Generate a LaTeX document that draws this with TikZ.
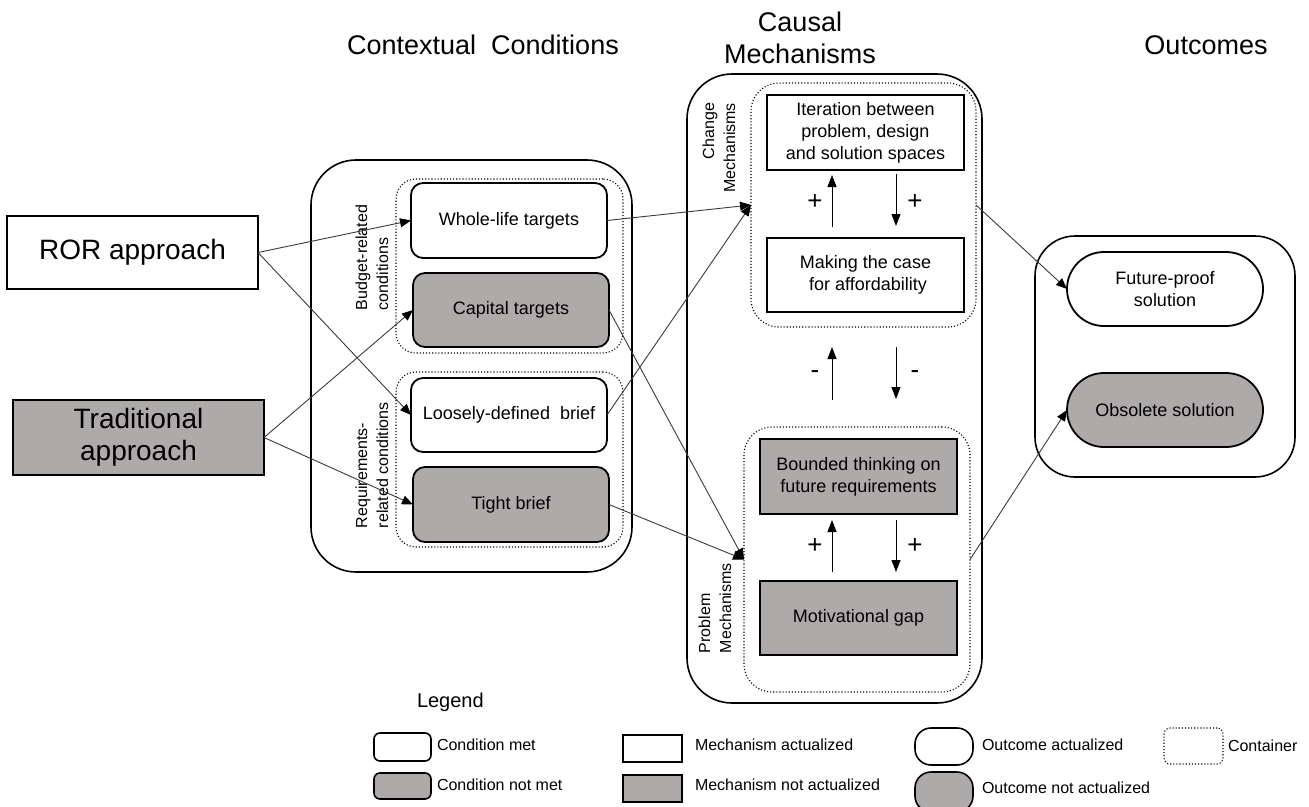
\documentclass[tikz,border=0pt]{standalone}
\usepackage{fontspec}
\setmainfont{Liberation Sans}
\usetikzlibrary{arrows.meta,calc}
\definecolor{gfill}{HTML}{AEAAAA}
\definecolor{lgray}{HTML}{3A3A3A}
\begin{document}
\begin{tikzpicture}[x=1pt,y=-1pt,
  every node/.style={inner sep=0pt,outer sep=0pt},
  txt/.style={font=\fontsize{18}{22}\selectfont,align=center},
  cond/.style={txt,draw=black,line width=1.8pt,rounded corners=12pt,minimum width=196pt,minimum height=75pt,fill=white},
  condn/.style={cond,fill=gfill},
  mech/.style={txt,draw=black,line width=1.8pt,minimum width=197pt,minimum height=75pt,fill=white},
  mechn/.style={mech,fill=gfill},
  outc/.style={txt,draw=black,line width=1.8pt,rounded corners=37pt,minimum width=196pt,minimum height=74pt,fill=white},
  outcn/.style={outc,fill=gfill},
  outer/.style={draw=black,line width=1.6pt,rounded corners=45pt},
  cont/.style={draw=black,line width=1.1pt,dotted,rounded corners=20pt},
  side/.style={font=\fontsize{16}{21}\selectfont,rotate=90},
  title/.style={font=\fontsize{27}{32}\selectfont,align=center},
  arr/.style={draw=lgray,line width=0.9pt,-{Triangle[length=11pt,width=9pt,color=black]}},
  fb/.style={draw=black,line width=1pt,-{Triangle[length=12pt,width=9pt,color=black]}},
  sign/.style={font=\fontsize{26}{26}\selectfont},
  leg/.style={font=\fontsize{16}{19}\selectfont,anchor=west}
]
\useasboundingbox (0,0) rectangle (1309,806);

% titles
\node[title] (t1) at (483,45) {Contextual\ \ Conditions};
\node[title] (t2) at (800,38) {Causal\\Mechanisms};
\node[title] (t3) at (1206,45) {Outcomes};

% approaches
\node[draw=black,line width=1.6pt,minimum width=251pt,minimum height=73pt,font=\fontsize{28}{32}\selectfont,fill=white] (ror) at (132.5,252.5) {ROR approach};
\node[draw=black,line width=1.6pt,minimum width=251pt,minimum height=75pt,font=\fontsize{28}{32}\selectfont,align=center,fill=gfill] (trad) at (138.5,437.5) {Traditional\\approach};

% contextual conditions
\node[outer,minimum width=321pt,minimum height=412pt] (ctx) at (471.5,366) {};
\node[cont,minimum width=227pt,minimum height=174pt] (budget) at (509.5,266) {};
\node[cont,minimum width=227pt,minimum height=175pt] (req) at (509.5,459.5) {};
\node[cond] (wl) at (509,220.5) {Whole-life targets};
\node[condn,minimum height=74pt] (cap) at (511,310) {Capital targets};
\node[cond,minimum height=74pt] (loose) at (509,415) {Loosely-defined\ \ brief};
\node[condn] (tight) at (511,504.5) {Tight brief};
\node[side,align=left,anchor=west] (bl) at (372,310) {Budget-related\\conditions};
\node[side,align=left,anchor=west] (rl) at (372,528) {Requirements-\\related conditions};

% causal mechanisms
\node[outer,minimum width=295pt,minimum height=629pt] (causal) at (834.5,388.5) {};
\node[cont,rounded corners=28pt,minimum width=225pt,minimum height=244pt] (changeC) at (863.5,205) {};
\node[cont,rounded corners=28pt,minimum width=226pt,minimum height=265pt] (probC) at (857,559.5) {};
\node[mech] (iter) at (865.5,132.5) {Iteration between\\problem, design\\and solution spaces};
\node[mech,minimum height=74pt] (case) at (865.5,275) {Making the case\\\ for affordability};
\node[mechn] (bounded) at (858.5,476.5) {Bounded thinking on\\future requirements};
\node[mechn,minimum height=74pt] (motiv) at (858.5,618) {Motivational gap};
\node[side,align=right,anchor=east] (cl) at (719,103) {Change\\Mechanisms};
\node[side,align=left,anchor=west] (pl) at (715,653) {Problem\\Mechanisms};

\coordinate (ux) at (832,0);
\coordinate (dx) at (896,0);
\draw[fb,shorten <=11pt,shorten >=5pt] (case.north -| ux) -- (iter.south -| ux);
\draw[fb,shorten <=4pt,shorten >=12pt] (iter.south -| dx) -- (case.north -| dx);
\draw[fb,shorten <=27pt,shorten >=20pt] (probC.north -| ux) -- (changeC.south -| ux);
\draw[fb,shorten <=20pt,shorten >=28pt] (changeC.south -| dx) -- (probC.north -| dx);
\draw[fb,shorten <=9pt,shorten >=6pt] (motiv.north -| ux) -- (bounded.south -| ux);
\draw[fb,shorten <=6pt,shorten >=9pt] (bounded.south -| dx) -- (motiv.north -| dx);
\node[sign] (p1) at (815,202) {+};
\node[sign] (p2) at (915,202) {+};
\node[sign] (m1) at (815,375) {-};
\node[sign] (m2) at (915,375) {-};
\node[sign] (p3) at (815,546) {+};
\node[sign] (p4) at (915,546) {+};

% outcomes
\node[outer,rounded corners=40pt,minimum width=260pt,minimum height=241pt] (outs) at (1165,356.5) {};
\node[outc] (future) at (1165,289) {Future-proof\\solution};
\node[outcn] (obs) at (1165,410) {Obsolete solution};

% connectors
\draw[arr] (ror.east) -- (wl.west);
\draw[arr] (ror.east) -- (loose.west);
\draw[arr] (trad.east) -- (cap.west);
\draw[arr] (trad.east) -- (tight.west);
\draw[arr] (wl.east) -- (changeC.west);
\draw[arr] (loose.east) -- (changeC.west);
\draw[arr] (cap.east) -- (probC.west);
\draw[arr] (tight.east) -- (probC.west);
\draw[arr] (changeC.east) -- (future.west);
\draw[arr] (probC.east) -- (obs.west);

% legend
\node[font=\fontsize{20}{24}\selectfont,anchor=west] (lg) at (417,702) {Legend};
\node[draw=black,line width=1.6pt,rounded corners=6pt,minimum width=57pt,minimum height=28pt] (lcm) at (402.5,747) {};
\node[leg] (lcmt) at (437,745) {Condition met};
\node[draw=black,line width=1.6pt,rounded corners=6pt,minimum width=57pt,minimum height=26pt,fill=gfill] (lcn) at (402.5,786) {};
\node[leg] (lcnt) at (437,785) {Condition not met};
\node[draw=black,line width=1.6pt,minimum width=59pt,minimum height=27pt] (lma) at (652.5,748.5) {};
\node[leg] (lmat) at (695,745) {Mechanism actualized};
\node[draw=black,line width=1.6pt,minimum width=59pt,minimum height=27pt,fill=gfill] (lmn) at (652.5,788.5) {};
\node[leg] (lmnt) at (695,785) {Mechanism not actualized};
\node[draw=black,line width=1.6pt,rounded corners=16pt,minimum width=58pt,minimum height=37pt] (loa) at (944,746.5) {};
\node[leg] (loat) at (982,745) {Outcome actualized};
\node[draw=black,line width=1.6pt,rounded corners=16pt,minimum width=58pt,minimum height=40pt,fill=gfill] (lon) at (944,792) {};
\node[leg] (lont) at (982,788) {Outcome not actualized};
\node[draw=black,line width=1.1pt,dotted,rounded corners=6pt,minimum width=59pt,minimum height=36pt] (lco) at (1193.5,746) {};
\node[leg] (lcot) at (1228,746) {Container};
\end{tikzpicture}
\end{document}
